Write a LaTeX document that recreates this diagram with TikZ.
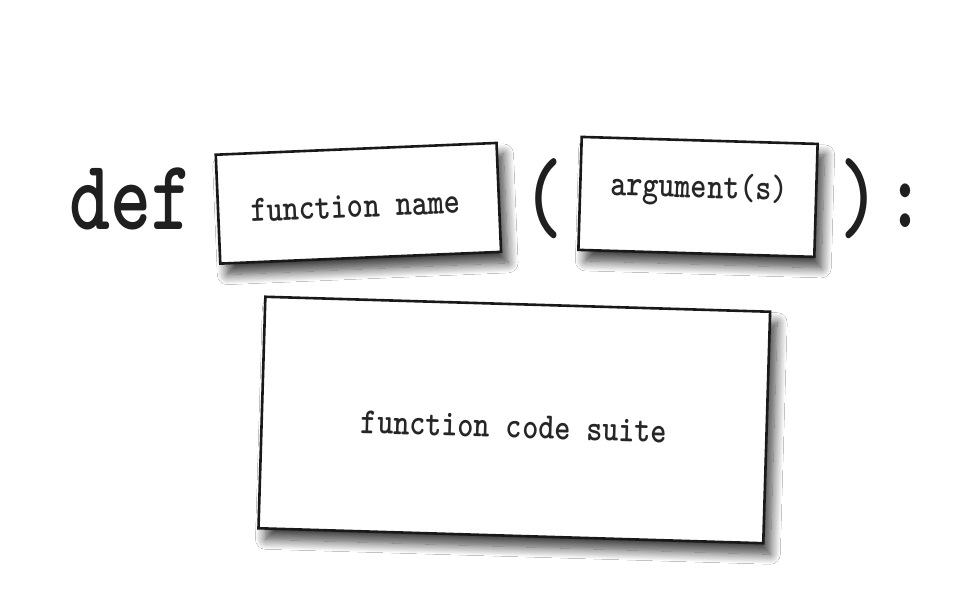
\documentclass[tikz,border=0pt]{standalone}
\usepackage{fontspec}
\usetikzlibrary{shadows.blur}
\tikzset{
  card/.style={draw=black!90, line width=2.6pt, fill=white, inner sep=0pt,
    blur shadow={shadow xshift=7pt, shadow yshift=-11pt, shadow blur radius=10pt, shadow blur steps=12, shadow opacity=75}},
  cardtext/.style={anchor=base, inner sep=0pt, text=black!85, font=\ttfamily\bfseries\fontsize{37}{37}\selectfont},
  bigtext/.style={anchor=base, inner sep=0pt, text=black!88, font=\ttfamily\bfseries\fontsize{100}{100}\selectfont},
  parentext/.style={anchor=base, inner sep=0pt, text=black!88, font=\ttfamily\bfseries\fontsize{104}{104}\selectfont}
}
\begin{document}
\begin{tikzpicture}[x=1pt,y=1pt]
\useasboundingbox[fill=white] (0,0) rectangle (960,600);
% keyword
\node[bigtext] (def) at (131,370) {\scalebox{0.78}[1]{def}};
% boxes
\node[card, minimum width=281pt, minimum height=109pt, rotate=2.4] (name) at (358.4,396.7) {};
\node[cardtext, rotate=2.4] (nametext) at (356,382.5) {\scalebox{0.83}[1]{function name}};
\node[parentext] (lp) at (543,369) {\scalebox{0.75}[1]{(}};
\node[card, minimum width=236pt, minimum height=113pt, rotate=-1.7] (args) at (698,403.1) {};
\node[cardtext, rotate=-1.7] (argstext) at (699,402) {\scalebox{0.83}[1]{argument(s)}};
\node[parentext] (rp) at (860,369) {\scalebox{0.75}[1]{)}};
\node[bigtext] (colon) at (905,372) {\scalebox{0.76}[1]{:}};
\node[card, minimum width=505pt, minimum height=231.6pt, rotate=-1.7] (suite) at (514.3,180) {};
\node[cardtext, rotate=-1.7] (suitetext) at (514,162) {\scalebox{0.83}[1]{function code suite}};
\end{tikzpicture}
\end{document}
